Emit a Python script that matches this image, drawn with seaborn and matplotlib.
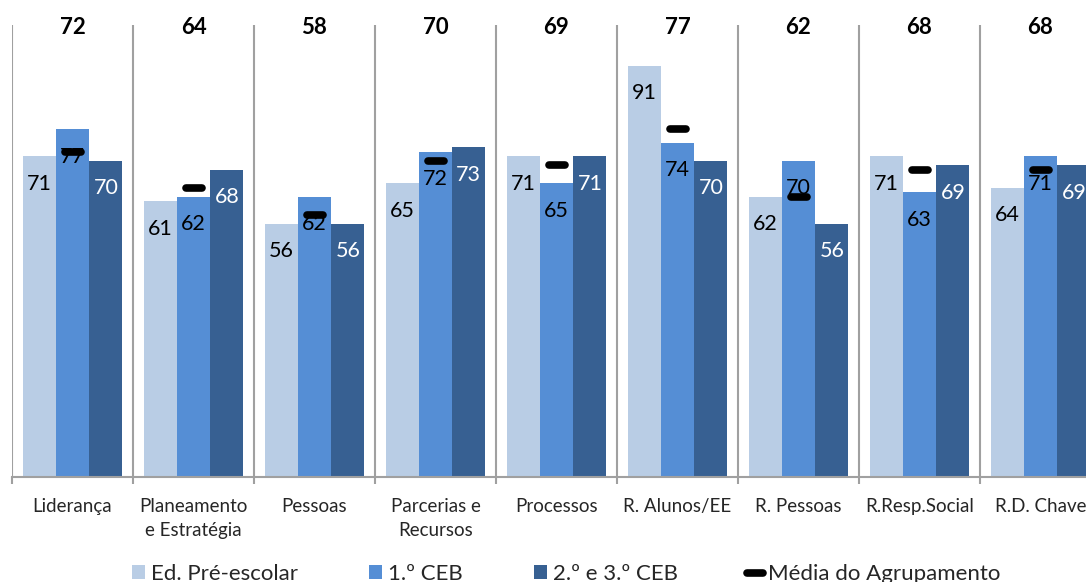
import matplotlib
matplotlib.use("Agg")
import matplotlib.pyplot as plt
from matplotlib.markers import MarkerStyle
from matplotlib.patches import Patch
from matplotlib.lines import Line2D
import seaborn as sns
import pandas as pd
import numpy as np

categories = ["Liderança", "Planeamento\ne Estratégia", "Pessoas", "Parcerias e\nRecursos",
              "Processos", "R. Alunos/EE", "R. Pessoas", "R.Resp.Social", "R.D. Chave"]
series_names = ["Ed. Pré-escolar", "1.º CEB", "2.º e 3.º CEB"]
pre_escolar = [71, 61, 56, 65, 71, 91, 62, 71, 64]
ceb1 = [77, 62, 62, 72, 65, 74, 70, 63, 71]
ceb23 = [70, 68, 56, 73, 71, 70, 56, 69, 69]
media = [72, 64, 58, 70, 69, 77, 62, 68, 68]
media_label = "Média do Agrupamento"

colors = ["#B9CDE5", "#558ED5", "#376092"]
label_colors = ["black", "black", "white"]

sns.set_style("white")
plt.rcParams['font.family'] = ['Lato', 'DejaVu Sans']

rows = []
for name, vals in zip(series_names, [pre_escolar, ceb1, ceb23]):
    for c, v in zip(categories, vals):
        rows.append({"cat": c, "val": v, "series": name})
df = pd.DataFrame(rows)

fig = plt.figure(figsize=(10.86, 5.82), dpi=100)
ax = fig.add_axes([12 / 1086, 105 / 582, 1089 / 1086, 452 / 582])

sns.barplot(data=df, x="cat", y="val", hue="series", hue_order=series_names,
            order=categories, palette=colors, saturation=1, width=0.826, gap=0,
            linewidth=0, edgecolor="none", errorbar=None, legend=False, ax=ax)

ax.set_ylim(0, 100)
ax.set_xlim(-0.5, len(categories) - 0.5)

# value labels inside bars
for i, cont in enumerate(ax.containers):
    for bar, v in zip(cont, [pre_escolar, ceb1, ceb23][i]):
        x = bar.get_x() + bar.get_width() / 2
        ax.text(x, v - 6.1, f"{v}", ha="center", va="center",
                fontsize=15.5, color=label_colors[i])

# average markers
mk = MarkerStyle("_", capstyle="round")
ax.plot(np.arange(len(categories)), media, linestyle="none", marker=mk,
        markersize=11, markeredgewidth=5.5, color="black", zorder=5)

# bold average labels at top
for i, m in enumerate(media):
    ax.text(i, 99.5, f"{m}", ha="center", va="center", fontsize=16,
            fontweight="bold", color="black")

# separators
for k in range(len(categories) + 1):
    ax.axvline(k - 0.5, color="#A0A0A0", lw=1.5, zorder=0)

for s in ["left", "right", "top"]:
    ax.spines[s].set_visible(False)
ax.spines["bottom"].set_color("#A0A0A0")
ax.spines["bottom"].set_linewidth(1.5)
ax.set_yticks([])
ax.set_xticks(range(len(categories)))
ax.set_xticklabels(categories, fontsize=13.5, linespacing=1.5, va="top")
ax.set_xticks(np.arange(len(categories) + 1) - 0.5, minor=True)
ax.tick_params(axis="x", which="major", length=0, pad=15)
ax.tick_params(axis="x", which="minor", length=5, width=1.5, color="#A0A0A0", direction="out")
ax.tick_params(axis="x", which="both", bottom=True)
ax.set_xlabel("")
ax.set_ylabel("")

handles = [Patch(facecolor=c, edgecolor="none") for c in colors]
handles.append(Line2D([0], [0], linestyle="none", marker=mk, markersize=11,
                      markeredgewidth=5.5, color="black"))
labels = series_names + [media_label]
fig.legend(handles, labels, loc="center", bbox_to_anchor=(566 / 1086, 8 / 582),
           ncol=4, frameon=False, fontsize=16, handlelength=0.6, handleheight=0.6,
           handletextpad=0.25, columnspacing=3.2, borderaxespad=0)

fig.savefig("out.png", dpi=100)
